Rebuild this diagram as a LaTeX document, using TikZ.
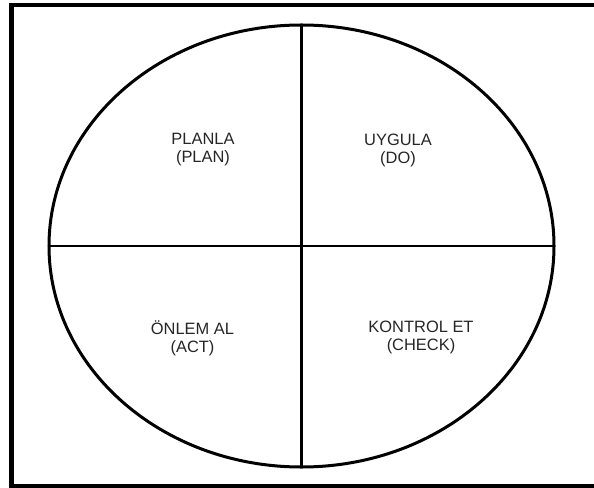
\documentclass[tikz,border=0pt]{standalone}
\usepackage{fontspec}
\setmainfont{Liberation Sans}
\usetikzlibrary{shapes.geometric}
\begin{document}
\begin{tikzpicture}[x=1bp,y=-1bp,
  lbl/.style={align=center,font=\fontsize{16.5}{18}\selectfont,text=black!85},
  divider/.style={line width=2.1bp,draw=black}]
\useasboundingbox (0,0) rectangle (594,488);
\clip (0,0) rectangle (594,488);
\draw[line width=4.5bp] (11.5,5) -- (620,5) -- (620,486) -- (11.5,486) -- cycle;
\node[ellipse,draw,line width=3bp,inner sep=0pt,outer sep=0pt,
  minimum width=505bp,minimum height=442bp] (e) at (301.5,246) {};
\draw[divider] (e.north) -- (e.south);
\draw[divider] (e.west) -- (e.east);
\node[lbl] (plan) at (203,150) {PLANLA\\(PLAN)};
\node[lbl] (do) at (398,150) {UYGULA\\(DO)};
\node[lbl] (act) at (192.5,338) {ÖNLEM AL\\(ACT)};
\node[lbl] (check) at (421,337) {KONTROL ET\\(CHECK)};
\end{tikzpicture}
\end{document}
